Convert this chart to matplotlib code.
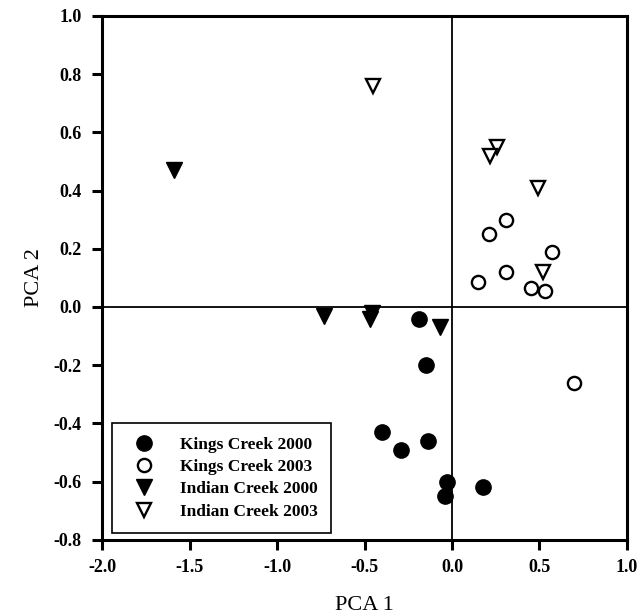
import matplotlib
matplotlib.use('Agg')
import matplotlib.pyplot as plt

plt.rcParams['font.family'] = ['Liberation Serif', 'DejaVu Serif']

# Kings Creek 2000 (filled circles)
kc00_x = [-0.19, -0.15, -0.40, -0.29, -0.14, -0.03, -0.04, 0.18]
kc00_y = [-0.04, -0.20, -0.43, -0.49, -0.46, -0.60, -0.65, -0.62]
# Kings Creek 2003 (open circles)
kc03_x = [0.31, 0.21, 0.57, 0.31, 0.15, 0.45, 0.53, 0.70]
kc03_y = [0.30, 0.25, 0.19, 0.12, 0.085, 0.066, 0.055, -0.26]
# Indian Creek 2000 (filled triangles)
ic00_x = [-1.59, -0.73, -0.46, -0.47, -0.07]
ic00_y = [0.47, -0.03, -0.02, -0.04, -0.07]
# Indian Creek 2003 (open triangles)
ic03_x = [-0.45, 0.26, 0.22, 0.49, 0.52]
ic03_y = [0.76, 0.55, 0.52, 0.41, 0.12]

xticks = [-2.0, -1.5, -1.0, -0.5, 0.0, 0.5, 1.0]
yticks = [-0.8, -0.6, -0.4, -0.2, 0.0, 0.2, 0.4, 0.6, 0.8, 1.0]

fig = plt.figure(figsize=(6.39, 6.14), dpi=100)
ax = fig.add_axes([0.160, 0.121, 0.821, 0.853])

ax.axhline(0, color='black', lw=1.3, zorder=1)
ax.axvline(0, color='black', lw=1.3, zorder=1)

ax.plot(kc00_x, kc00_y, 'o', ms=11, mfc='black', mec='black', label='Kings Creek 2000', zorder=3)
ax.plot(kc03_x, kc03_y, 'o', ms=9.5, mfc='white', mec='black', mew=1.7, label='Kings Creek 2003', zorder=3)
ax.plot(ic00_x, ic00_y, 'v', ms=11, mfc='black', mec='black', label='Indian Creek 2000', zorder=3)
ax.plot(ic03_x, ic03_y, 'v', ms=9.5, mfc='white', mec='black', mew=1.7, label='Indian Creek 2003', zorder=3)

ax.set_xlim(-2.0, 1.0)
ax.set_ylim(-0.8, 1.0)
ax.set_xticks(xticks)
ax.set_yticks(yticks)
ax.set_xticklabels(['%.1f' % v for v in xticks], fontweight='bold', fontsize=13)
ax.set_yticklabels(['%.1f' % v for v in yticks], fontweight='bold', fontsize=13)
ax.tick_params(direction='out', length=7, width=2.2, top=False, right=False)
ax.tick_params(axis='y', pad=8)
ax.tick_params(axis='x', pad=7)
for s in ax.spines.values():
    s.set_linewidth(2.2)

ax.set_xlabel('PCA 1', fontsize=16, labelpad=14)
ax.set_ylabel('PCA 2', fontsize=16, labelpad=7)

leg = ax.legend(loc='lower left', bbox_to_anchor=(0.019, 0.013), prop={'weight': 'bold', 'size': 12.5},
                fancybox=False, framealpha=1, edgecolor='black', handletextpad=0.98,
                borderpad=0.75, labelspacing=0.36, borderaxespad=0, handlelength=2.18)
leg.get_frame().set_linewidth(1.2)

plt.savefig('out.png', dpi=100)
